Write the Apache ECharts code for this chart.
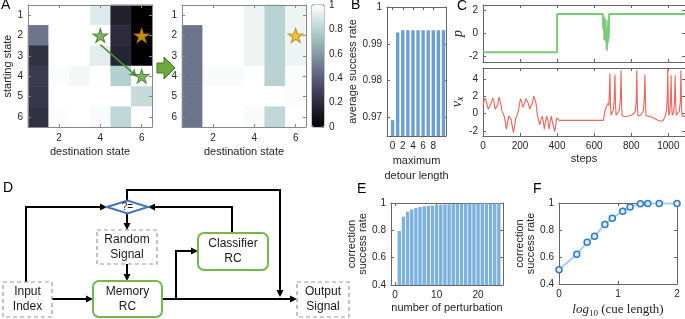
<!DOCTYPE html>
<html>
<head>
<meta charset="utf-8">
<script src="https://cdn.jsdelivr.net/npm/echarts@6/dist/echarts.min.js"></script>
<style>
html, body { margin: 0; padding: 0; background: #fff; }
#chart { width: 685px; height: 319px; }
</style>
</head>
<body>
<div id="chart"></div>
<script>
const FONT = 'Liberation Sans, Arial, sans-serif';
const SERIF = 'Liberation Serif, DejaVu Serif, serif';

// ---- panel A : success rate per (start, destination) before / after
const states = ['1', '2', '3', '4', '5', '6'];
const heatBefore = [
  [1.00, 1.00, 1.00, 0.91, 0.15, 0.00],
  [0.48, 1.00, 1.00, 1.00, 0.19, 0.00],
  [0.22, 1.00, 1.00, 0.92, 0.16, 0.00],
  [0.26, 0.99, 0.97, 1.00, 0.79, 1.00],
  [0.24, 1.00, 1.00, 1.00, 1.00, 0.84],
  [0.22, 0.99, 1.00, 0.98, 0.82, 1.00]
];
const heatAfter = [
  [1.00, 1.00, 1.00, 0.95, 0.80, 0.95],
  [0.48, 1.00, 1.00, 0.95, 0.80, 0.95],
  [0.48, 1.00, 1.00, 0.95, 0.80, 0.95],
  [0.48, 0.98, 0.98, 1.00, 0.80, 0.99],
  [0.48, 1.00, 1.00, 1.00, 1.00, 0.99],
  [0.48, 1.00, 1.00, 0.98, 0.82, 1.00]
];
const greenStars = [[4, 2], [6, 4]];
const goalStar = [[6, 2]];
const detourArrow = [[4, 2.45], [5.75, 4.0]];
const colorbarTicks = [0, 0.2, 0.4, 0.6, 0.8, 1];

// ---- panel B
const detourLength = [0, 1, 2, 3, 4, 5, 6, 7, 8, 9, 10];
const detourRate = [0.9693, 0.9931, 0.9937, 0.9937, 0.9937, 0.9937, 0.9937, 0.9937, 0.9937, 0.9937, 0.9937];

// ---- panel C : [step, value]
const pTrace = [
  [0, -1.65], [400, -1.65], [400, 1.72], [646, 1.72], [649, 0.4], [652, 1.5], [655, -0.6],
  [657, 1.0], [659, -0.2], [661, 1.3], [664, -0.75], [666, 0.5], [668, -1.5], [670, 0.3],
  [673, -0.9], [676, 1.2], [678, -0.5], [681, 1.72], [1090, 1.72]
];
const vxTrace = [
  [0, 0.9], [6, 1.5], [12, 1.75], [20, 1.2], [28, 0.5], [36, 0.4], [45, 1.2], [52, 1.8], [58, 1.5],
  [66, 0.5], [72, 0.3], [80, 1.0], [86, 1.9], [90, 2.0], [95, 1.2], [102, 0.3], [108, 0.2],
  [114, -0.3], [121, -1.0], [126, -1.8], [132, -1.2], [138, -0.3], [144, -0.1], [150, -0.6],
  [158, -1.5], [164, -2.2], [170, -1.5], [176, -0.6], [184, -0.2], [190, 0.2], [196, 1.0],
  [202, 1.7], [208, 1.4], [216, 0.7], [224, 1.2], [232, 1.7], [238, 1.8], [244, 1.2], [252, 0.5],
  [258, 0.5], [266, 1.2], [274, 2.0], [280, 2.1], [286, 1.2], [292, 0.0], [300, -0.8], [307, -1.3],
  [313, -0.7], [320, -0.3], [326, -1.0], [331, -1.8], [337, -1.0], [344, -0.3], [350, -0.8],
  [356, -1.8], [362, -1.0], [368, -0.3], [374, -0.4], [380, -1.5], [387, -2.1], [393, -1.3],
  [398, -0.5], [402, -0.3], [406, -0.6], [412, -0.8], [418, -0.65], [425, -0.8], [440, -0.8],
  [650, -0.8], [654, -0.2], [660, 0.4], [665, 0.8], [670, 0.9], [673, 0.6], [676, 1.2], [679, 0.9],
  [682, 2.5], [685, 4.6], [688, 1.0], [691, -0.2], [697, 0.1], [703, 0.4], [708, 1.5], [712, 4.5],
  [715, 1.0], [718, -0.2], [726, 0.0], [735, 0.3], [741, 1.5], [745, 5.0], [748, 1.0], [751, -0.3],
  [765, -0.35], [790, -0.3], [810, -0.1], [822, 0.3], [827, 1.5], [830, 5.0], [833, 1.0], [836, -0.3],
  [850, -0.2], [864, 0.2], [870, 1.5], [874, 4.5], [877, 1.0], [880, -0.3], [900, -0.35], [920, -0.5],
  [940, -0.75], [960, -0.9], [972, -0.8], [982, -0.4], [990, 0.3], [994, 1.5], [997, 5.1], [1000, 1.0],
  [1003, -0.2], [1008, 0.1], [1012, 1.5], [1015, 4.4], [1018, 1.0], [1021, -0.2], [1028, 0.1],
  [1033, 1.2], [1037, 4.4], [1040, 1.0], [1043, -0.2], [1052, -0.1], [1060, 0.3], [1065, 1.5],
  [1068, 5.0], [1071, 1.0], [1074, -0.3], [1090, -0.3]
];

// ---- panel E
const perturbNum = [1, 2, 3, 4, 5, 6, 7, 8, 9, 10, 11, 12, 13, 14, 15, 16, 17, 18, 19, 20, 21, 22, 23, 24, 25];
const perturbRate = [0.795, 0.90, 0.937, 0.953, 0.964, 0.971, 0.976, 0.979, 0.982, 0.985, 0.988, 0.990,
  0.991, 0.992, 0.993, 0.994, 0.995, 0.995, 0.996, 0.996, 0.997, 0.997, 0.997, 0.998, 0.998];

// ---- panel F
const cueLength = [1, 2, 3, 4, 6, 8, 12, 16, 24, 32, 50, 100];
const cueRate = [0.505, 0.62, 0.71, 0.753, 0.841, 0.887, 0.939, 0.971, 0.995, 0.997, 0.997, 0.997];

// matlab "bone" colormap
const bone = ['#000000', '#1c1c27', '#38384d', '#545474', '#707a8f', '#8ba1ab', '#a7c7c7', '#d3e3e3', '#ffffff'];
const STAR = 'path://M50,0 L61,35 L98,35 L68,57 L79,91 L50,70 L21,91 L32,57 L2,35 L39,35 Z';

function heatData(m) {
  const out = [];
  m.forEach((row, r) => row.forEach((v, c) => out.push([c, r, v])));
  return out;
}

function merge(a, b) {
  for (const k in b) {
    const v = b[k];
    if (v && typeof v === 'object' && !Array.isArray(v) && a[k] && typeof a[k] === 'object') merge(a[k], v);
    else a[k] = v;
  }
  return a;
}
function mk(...parts) {
  const r = {
    axisLine: { show: true, onZero: false, lineStyle: { color: '#666', width: 1 } },
    axisTick: { show: true, inside: true, length: 3, lineStyle: { color: '#666' } },
    axisLabel: { color: '#262626', fontSize: 10, fontFamily: FONT, margin: 5 },
    splitLine: { show: false },
    nameTextStyle: { color: '#262626', fontSize: 11, fontFamily: FONT }
  };
  parts.forEach((p) => p && merge(r, p));
  return r;
}
const even = (i) => i % 2 === 1;
const hidden = () => ({ show: false });
const plain = (v) => String(v);

const grids = [
  { left: 28, top: 5, width: 124, height: 122 },   // 0 A before
  { left: 182, top: 5, width: 124, height: 122 },  // 1 A after
  { left: 312, top: 5, width: 12, height: 122, show: true, borderColor: '#888', borderWidth: 1 }, // 2 colorbar
  { left: 387, top: 7, width: 59, height: 129 },   // 3 B
  { left: 483, top: 5, width: 202, height: 57 },   // 4 C top
  { left: 483, top: 68, width: 202, height: 68 },  // 5 C bottom
  { left: 391, top: 203, width: 112, height: 82 }, // 6 E
  { left: 559, top: 203, width: 118, height: 82 }, // 7 F
  { left: 28, top: 5, width: 124, height: 122 },   // 8 overlay A before
  { left: 182, top: 5, width: 124, height: 122 }   // 9 overlay A after
];

function heatX(g, pos) {
  return mk({ gridIndex: g, type: 'category', data: states, position: pos, z: 3,
    axisLine: { lineStyle: { color: '#888' } },
    axisTick: { alignWithLabel: true, interval: even, lineStyle: { color: '#888' } },
    axisLabel: pos === 'top' ? hidden() : { interval: even, margin: 6 },
    name: pos === 'top' ? '' : 'destination state', nameLocation: 'middle', nameGap: 19 });
}
function heatY(g, pos, withName) {
  return mk({ gridIndex: g, type: 'category', data: states, inverse: true, position: pos, z: 3,
    axisLine: { lineStyle: { color: '#888' } },
    axisTick: { alignWithLabel: true, lineStyle: { color: '#888' } },
    axisLabel: pos === 'right' ? hidden() : { margin: 5 },
    name: withName ? 'starting state' : '', nameLocation: 'middle', nameGap: 14 });
}
function valAxis(g, pos, min, max, ticks, extra) {
  const mirror = pos === 'top' || pos === 'right';
  return mk({ gridIndex: g, type: 'value', position: pos, min: min, max: max,
    axisTick: { customValues: ticks },
    axisLabel: mirror ? hidden() : { customValues: ticks, formatter: plain } }, extra);
}
const fmt1 = (v) => (v === 1 ? '1' : v.toFixed(1));
const stepTicks = [0, 200, 400, 600, 800, 1000];

const xAxes = [
  heatX(0, 'bottom'), heatX(0, 'top'),
  heatX(1, 'bottom'), heatX(1, 'top'),
  { gridIndex: 2, type: 'value', show: false, min: 0, max: 1 },
  valAxis(3, 'bottom', -1.1, 10.5, [0, 2, 4, 6, 8], { name: 'maximum\ndetour length', nameLocation: 'middle', nameGap: 17,
    nameTextStyle: { lineHeight: 15 } }),
  valAxis(3, 'top', -1.1, 10.5, [0, 2, 4, 6, 8]),
  valAxis(4, 'bottom', 0, 1090, stepTicks, { axisLabel: { show: false } }),
  valAxis(4, 'top', 0, 1090, stepTicks),
  valAxis(5, 'bottom', 0, 1090, stepTicks, { name: 'steps', nameLocation: 'middle', nameGap: 17 }),
  valAxis(5, 'top', 0, 1090, stepTicks),
  valAxis(6, 'bottom', -1, 26, [0, 10, 20], { name: 'number of perturbation', nameLocation: 'middle', nameGap: 17 }),
  valAxis(6, 'top', -1, 26, [0, 10, 20]),
  mk({ gridIndex: 7, type: 'log', logBase: 10, min: 1, max: 100, position: 'bottom',
    axisTick: { customValues: [1, 10, 100] },
    axisLabel: { customValues: [1, 10, 100], formatter: (v) => String(Math.round(Math.log10(v))) },
    name: '{i|log}{s|10} (cue length)', nameLocation: 'middle', nameGap: 18,
    nameTextStyle: { fontFamily: SERIF, fontSize: 13, rich: {
      i: { fontFamily: SERIF, fontStyle: 'italic', fontSize: 13 },
      s: { fontFamily: SERIF, fontSize: 9, padding: [7, 0, 0, 0] } } } }),
  mk({ gridIndex: 7, type: 'log', logBase: 10, min: 1, max: 100, position: 'top',
    axisTick: { customValues: [1, 10, 100] }, axisLabel: hidden() }),
  { gridIndex: 8, type: 'value', min: 0.5, max: 6.5, show: false },
  { gridIndex: 9, type: 'value', min: 0.5, max: 6.5, show: false }
];

const yAxes = [
  heatY(0, 'left', true), heatY(0, 'right', false),
  heatY(1, 'left', false), heatY(1, 'right', false),
  mk({ gridIndex: 2, type: 'value', position: 'right', min: 0, max: 1,
    axisLine: { show: false }, axisTick: { customValues: colorbarTicks, length: 2, lineStyle: { color: '#888' } },
    axisLabel: { customValues: colorbarTicks, margin: 5, formatter: (v) => (v === 0 || v === 1 ? String(v) : v.toFixed(1)) } }),
  valAxis(3, 'left', 0.965, 1, [0.97, 0.98, 0.99, 1], { axisLabel: { formatter: (v) => (v === 1 ? '1' : v.toFixed(2)) },
    name: 'average success rate', nameLocation: 'middle', nameGap: 25 }),
  valAxis(3, 'right', 0.965, 1, [0.97, 0.98, 0.99, 1]),
  valAxis(4, 'left', -2.5, 2.5, [-2, 0, 2], { name: 'p', nameLocation: 'middle', nameGap: 15,
    nameTextStyle: { fontFamily: SERIF, fontStyle: 'italic', fontSize: 14 } }),
  valAxis(4, 'right', -2.5, 2.5, [-2, 0, 2]),
  valAxis(5, 'left', -2.6, 5.25, [-2, 0, 2, 4], { name: '{v|v}{s|x}', nameLocation: 'middle', nameGap: 15,
    nameTextStyle: { fontFamily: SERIF, fontSize: 14, rich: {
      v: { fontFamily: SERIF, fontStyle: 'italic', fontSize: 14 },
      s: { fontFamily: SERIF, fontStyle: 'italic', fontSize: 10, padding: [6, 0, 0, 0] } } } }),
  valAxis(5, 'right', -2.6, 5.25, [-2, 0, 2, 4]),
  valAxis(6, 'left', 0.4, 1, [0.4, 0.6, 0.8, 1], { axisLabel: { formatter: fmt1 },
    name: 'correction\nsuccess rate', nameLocation: 'middle', nameGap: 23, nameTextStyle: { lineHeight: 11 } }),
  valAxis(6, 'right', 0.4, 1, [0.4, 0.6, 0.8, 1]),
  valAxis(7, 'left', 0.4, 1, [0.4, 0.6, 0.8, 1], { axisLabel: { formatter: fmt1 },
    name: 'correction\nsuccess rate', nameLocation: 'middle', nameGap: 23, nameTextStyle: { lineHeight: 11 } }),
  valAxis(7, 'right', 0.4, 1, [0.4, 0.6, 0.8, 1]),
  { gridIndex: 8, type: 'value', min: 0.5, max: 6.5, inverse: true, show: false },
  { gridIndex: 9, type: 'value', min: 0.5, max: 6.5, inverse: true, show: false }
];

// ---- panel D flow chart, drawn as graphic elements
const gfx = [];
function label(x, y, text, size, extra) {
  gfx.push({ type: 'text', x: x, y: y, z: 20, style: Object.assign({ text: text, font: size + 'px ' + FONT, fill: '#1a1a1a',
    align: 'center', verticalAlign: 'middle', textAlign: 'center', textVerticalAlign: 'middle', lineHeight: 15 }, extra || {}) });
}
function box(x, y, w, h, kind, text) {
  const green = kind === 'rc';
  gfx.push({ type: 'rect', z: 10, shape: { x: x, y: y, width: w, height: h, r: green ? 6 : 0 },
    style: { fill: '#fff', stroke: green ? '#72b84f' : '#9a9a9a', lineWidth: green ? 2 : 1.2, lineDash: green ? null : [4, 3] } });
  label(x + w / 2, y + h / 2, text, 12);
}
function arrow(pts) {
  const n = pts.length;
  const [x1, y1] = pts[n - 2], [x2, y2] = pts[n - 1];
  const a = Math.atan2(y2 - y1, x2 - x1), L = 7, W = 3.5;
  const c = Math.cos(a), s = Math.sin(a);
  const line = pts.slice(0, n - 1).concat([[x2 - c * L * 0.7, y2 - s * L * 0.7]]);
  gfx.push({ type: 'polyline', z: 5, shape: { points: line }, style: { stroke: '#000', lineWidth: 2, fill: null } });
  gfx.push({ type: 'polygon', z: 6, shape: { points: [[x2, y2], [x2 - c * L + s * W, y2 - s * L - c * W], [x2 - c * L - s * W, y2 - s * L + c * W]] },
    style: { fill: '#000' } });
}
arrow([[26, 282], [26, 207], [107, 207]]);
arrow([[52, 299], [93, 299]]);
arrow([[127, 213], [127, 230]]);
arrow([[127, 264], [127, 281]]);
arrow([[162, 299], [297, 299]]);
arrow([[176, 299], [176, 251], [198, 251]]);
arrow([[232, 233], [232, 207], [148, 207]]);
arrow([[127, 201], [127, 190], [280, 190], [280, 297]]);
gfx.push({ type: 'polygon', z: 10, shape: { points: [[107, 207], [127.5, 200.5], [148, 207], [127.5, 213.5]] },
  style: { fill: '#fff', stroke: '#4472c4', lineWidth: 2 } });
label(127.5, 207, '?=', 10);
box(97, 230, 60, 34, 'dash', 'Random\nSignal');
box(198, 233, 70, 37, 'rc', 'Classifier\nRC');
box(93, 281, 69, 36, 'rc', 'Memory\nRC');
box(3, 282, 49, 35, 'dash', 'Input\nIndex');
box(297, 282, 52, 35, 'dash', 'Output\nSignal');

// green transition arrow between the two heat maps
gfx.push({ type: 'polygon', z: 10, shape: { points: [[157, 63], [164, 63], [164, 57], [175, 68], [164, 79], [164, 73], [157, 73]] },
  style: { fill: '#6aab3c', stroke: '#3f7a22', lineWidth: 1 } });

// panel letters
[['A', 1, 5], ['B', 351, 5], ['C', 457, 6.5], ['D', 3, 188], ['E', 357, 189], ['F', 533, 189]].forEach(([t, x, y]) => {
  gfx.push({ type: 'text', x: x, y: y, z: 20, style: { text: t, font: '14px ' + FONT, fill: '#000',
    align: 'left', verticalAlign: 'middle', textAlign: 'left', textVerticalAlign: 'middle' } });
});

const starStyle = (fill, stroke) => ({ color: fill, borderColor: stroke, borderWidth: 1 });

const option = {
  animation: false,
  backgroundColor: '#fff',
  grid: grids,
  xAxis: xAxes,
  yAxis: yAxes,
  visualMap: {
    type: 'continuous', min: 0, max: 1, seriesIndex: [0, 1], calculable: false,
    left: 312, top: 5, itemWidth: 12, itemHeight: 122, padding: 0, text: null, showLabel: false,
    inRange: { color: bone }
  },
  graphic: { elements: gfx },
  series: [
    { type: 'heatmap', xAxisIndex: 0, yAxisIndex: 0, data: heatData(heatBefore), emphasis: { disabled: true } },
    { type: 'heatmap', xAxisIndex: 2, yAxisIndex: 2, data: heatData(heatAfter), emphasis: { disabled: true } },
    { type: 'lines', coordinateSystem: 'cartesian2d', xAxisIndex: 15, yAxisIndex: 15, z: 5,
      data: [{ coords: detourArrow }], symbol: ['none', 'arrow'], symbolSize: 7,
      lineStyle: { color: '#4f8f35', width: 1.5, opacity: 1 } },
    { type: 'scatter', xAxisIndex: 15, yAxisIndex: 15, z: 6, symbol: STAR, symbolSize: [15, 14],
      data: greenStars, itemStyle: starStyle('#5f9f3c', '#3b7421') },
    { type: 'scatter', xAxisIndex: 15, yAxisIndex: 15, z: 6, symbol: STAR, symbolSize: [15, 14],
      data: goalStar, itemStyle: starStyle('#f6b40a', '#b57d00') },
    { type: 'scatter', xAxisIndex: 16, yAxisIndex: 16, z: 6, symbol: STAR, symbolSize: [15, 14],
      data: goalStar, itemStyle: starStyle('#f6b40a', '#b57d00') },
    { type: 'bar', xAxisIndex: 5, yAxisIndex: 5, barWidth: 3.4, itemStyle: { color: '#6c9fd6' },
      data: detourLength.map((d, i) => [d, detourRate[i]]) },
    { type: 'line', xAxisIndex: 7, yAxisIndex: 7, symbol: 'none', data: pTrace,
      lineStyle: { color: '#7acb76', width: 2 } },
    { type: 'line', xAxisIndex: 9, yAxisIndex: 9, symbol: 'none', data: vxTrace,
      lineStyle: { color: '#f0645a', width: 1.1 } },
    { type: 'bar', xAxisIndex: 11, yAxisIndex: 11, barWidth: 3.4, itemStyle: { color: '#7db1de' },
      data: perturbNum.map((d, i) => [d, perturbRate[i]]) },
    { type: 'line', xAxisIndex: 13, yAxisIndex: 13, symbol: 'circle', symbolSize: 6,
      data: cueLength.map((c, i) => [c, cueRate[i]]),
      lineStyle: { color: '#a9cdf0', width: 2 },
      itemStyle: { color: '#dce9f6', borderColor: '#2f7ec1', borderWidth: 1.5 } }
  ]
};

const chart = echarts.init(document.getElementById('chart'));
chart.setOption(option);
</script>
</body>
</html>
